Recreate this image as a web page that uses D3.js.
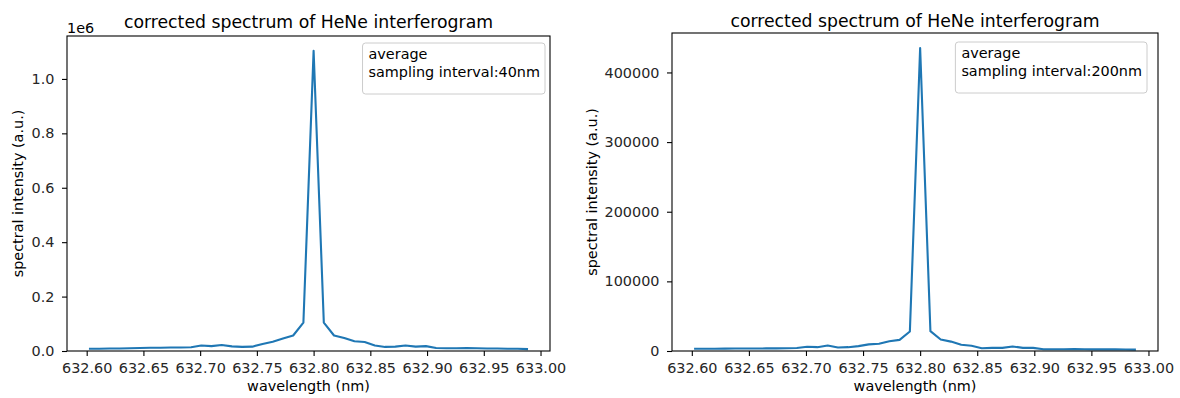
<!DOCTYPE html>
<html>
<head>
<meta charset="utf-8">
<script src="https://cdn.jsdelivr.net/npm/d3@7"></script>
<style>
    body { margin: 0; background: #fff; }
    svg { display: block; font-family: "DejaVu Sans", sans-serif; }
</style>
</head>
<body>
<div id="chart"></div>
<script>
const wavelength = [
    632.602, 632.611, 632.620, 632.629, 632.638, 632.647, 632.656, 632.665, 632.674, 632.683,
    632.692, 632.701, 632.710, 632.719, 632.728, 632.737, 632.746, 632.755, 632.764, 632.773,
    632.782, 632.791, 632.800, 632.809, 632.818, 632.827, 632.836, 632.845, 632.854, 632.863,
    632.872, 632.881, 632.890, 632.899, 632.908, 632.917, 632.926, 632.935, 632.944, 632.953,
    632.962, 632.971, 632.980, 632.989,
];
const intensity40 = [
    8000, 8000, 9000, 9000, 10000, 11000, 12000, 12000, 13000, 13000,
    14000, 20000, 18000, 22000, 17000, 15000, 16000, 26000, 34000, 46000,
    57000, 104000, 1103000, 104000, 57000, 48000, 36000, 33000, 20000, 15000,
    16000, 20000, 16000, 18000, 11000, 10000, 10000, 11000, 10000, 9000,
    9000, 8000, 8000, 7000,
];
const intensity200 = [
    3200, 3200, 3300, 3400, 3500, 3500, 3600, 3700, 3800, 4000,
    4200, 6000, 5500, 8000, 5000, 5500, 7000, 9500, 10500, 14000,
    16000, 28000, 435000, 28500, 16500, 13500, 9000, 7500, 4000, 4500,
    4500, 6500, 4500, 4500, 2500, 2500, 2600, 2800, 2500, 2400,
    2300, 2300, 2200, 2000,
];
const xTicks = [632.60, 632.65, 632.70, 632.75, 632.80, 632.85, 632.90, 632.95, 633.00];
const yTicks40 = [0, 200000, 400000, 600000, 800000, 1000000];
const yTicks200 = [0, 100000, 200000, 300000, 400000];
const titleText = "corrected spectrum of HeNe interferogram";
const legend40 = ["average", "sampling interval:40nm"];
const legend200 = ["average", "sampling interval:200nm"];

const FONT = 14.4;
const svg = d3.select("#chart").append("svg").attr("width", 1180).attr("height", 398);

const drawPanel = (p) => {
    const g = svg.append("g");

    // matplotlib style 5% margins on x, bottom pinned at 0
    const [x0, x1] = d3.extent(p.x);
    const xPad = (x1 - x0) * 0.05;
    const xScale = d3.scaleLinear().domain([x0 - xPad, x1 + xPad]).range([p.box.left, p.box.right]);
    const [y0, y1] = d3.extent(p.y);
    const yScale = d3.scaleLinear().domain([0, y1 + (y1 - y0) * 0.05]).range([p.box.bottom, p.box.top]);

    const xAxis = g.append("g")
        .attr("transform", `translate(0,${p.box.bottom})`)
        .call(d3.axisBottom(xScale).tickValues(xTicks).tickFormat(d3.format(".2f")).tickSize(5).tickPadding(7).tickSizeOuter(0));
    const yAxis = g.append("g")
        .attr("transform", `translate(${p.box.left},0)`)
        .call(d3.axisLeft(yScale).tickValues(p.yTicks).tickFormat(p.yFormat).tickSize(5).tickPadding(7.5).tickSizeOuter(0));
    [xAxis, yAxis].forEach((a) => {
        a.select(".domain").remove();
        a.selectAll("text").attr("font-size", FONT).attr("fill", "#262626").attr("font-family", "DejaVu Sans");
        a.selectAll("line").attr("stroke", "#000").attr("stroke-width", 1.1);
    });

    g.append("path")
        .datum(p.x.map((d, i) => [d, p.y[i]]))
        .attr("fill", "none")
        .attr("stroke", "#1f77b4")
        .attr("stroke-width", 2.1)
        .attr("stroke-linejoin", "round")
        .attr("d", d3.line().x((d) => xScale(d[0])).y((d) => yScale(d[1])));

    g.append("rect")
        .attr("x", p.box.left)
        .attr("y", p.box.top)
        .attr("width", p.box.right - p.box.left)
        .attr("height", p.box.bottom - p.box.top)
        .attr("fill", "none")
        .attr("stroke", "#000")
        .attr("stroke-width", 1.1);

    const cx = (p.box.left + p.box.right) / 2;
    g.append("text")
        .attr("x", cx)
        .attr("y", p.titleY)
        .attr("text-anchor", "middle")
        .attr("font-size", FONT * 1.2)
        .text(titleText);

    g.append("text")
        .attr("x", cx)
        .attr("y", 391)
        .attr("text-anchor", "middle")
        .attr("font-size", FONT)
        .text("wavelength (nm)");

    g.append("text")
        .attr("transform", `translate(${p.ylabelX},${(p.box.top + p.box.bottom) / 2}) rotate(-90)`)
        .attr("text-anchor", "middle")
        .attr("font-size", FONT)
        .text("spectral intensity (a.u.)");

    if (p.offset) {
        g.append("text")
            .attr("x", p.box.left)
            .attr("y", p.box.top - 3)
            .attr("font-size", FONT)
            .text(p.offset);
    }

    // legend with text only entries
    const legend = g.append("g");
    const rect = legend.append("rect")
        .attr("rx", 3)
        .attr("fill", "#fff")
        .attr("fill-opacity", 0.8)
        .attr("stroke", "#cccccc")
        .attr("stroke-width", 1);
    const texts = p.legend.map((t, i) =>
        legend.append("text")
            .attr("y", p.legendTop + 16 + i * 18)
            .attr("font-size", FONT)
            .text(t)
    );
    const maxW = d3.max(texts, (t) => t.node().getComputedTextLength());
    const boxW = maxW + 11;
    const boxLeft = p.legendRight - boxW;
    texts.forEach((t) => t.attr("x", boxLeft + 6));
    rect.attr("x", boxLeft).attr("y", p.legendTop).attr("width", boxW).attr("height", 51);
};

drawPanel({
    x: wavelength,
    y: intensity40,
    yTicks: yTicks40,
    yFormat: (d) => d3.format(".1f")(d / 1e6),
    offset: "1e6",
    box: { left: 67, right: 550, top: 36, bottom: 351 },
    titleY: 28,
    ylabelX: 23,
    legend: legend40,
    legendTop: 43,
    legendRight: 545,
});

drawPanel({
    x: wavelength,
    y: intensity200,
    yTicks: yTicks200,
    yFormat: d3.format("d"),
    offset: null,
    box: { left: 672, right: 1158, top: 33, bottom: 351 },
    titleY: 27,
    ylabelX: 597,
    legend: legend200,
    legendTop: 42,
    legendRight: 1147,
});
</script>
</body>
</html>
